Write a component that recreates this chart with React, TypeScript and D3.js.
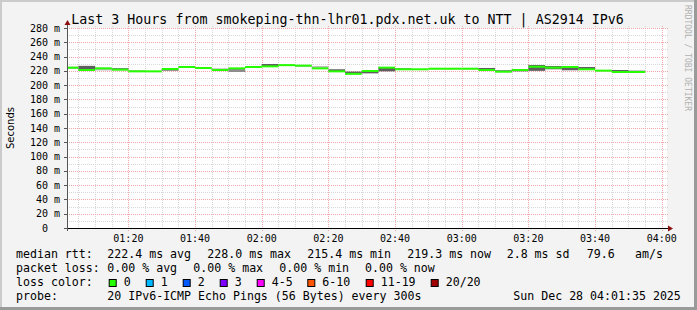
import React from "react";
import * as d3 from "d3";

const W = 697;
const H = 310;

const title = "Last 3 Hours from smokeping-thn-lhr01.pdx.net.uk to NTT | AS2914 IPv6";
const yLabel = "Seconds";
const watermark = "RRDTOOL / TOBI OETIKER";
const yTicks = [0, 20, 40, 60, 80, 100, 120, 140, 160, 180, 200, 220, 240, 260, 280];
const timeLabels = ["01:20", "01:40", "02:00", "02:20", "02:40", "03:00", "03:20", "03:40", "04:00"];

// 5-minute steps starting at 01:00
const median = [224.4, 221.2, 223.5, 221.7, 219.3, 219.3, 222.6, 225.4, 224.0, 221.2, 223.5, 225.4, 226.3, 228.0, 227.3, 223.5, 219.3, 215.8, 219.8, 224.5, 222.2, 222.2, 223.0, 223.0, 223.0, 221.2, 218.8, 221.2, 225.8, 224.5, 225.4, 222.2, 220.3, 218.4, 218.4];
const smokeLo = [222.5, 221.0, 220.5, 221.0, 219.0, 218.8, 220.3, 224.5, 223.5, 221.0, 218.4, 224.0, 226.0, 226.8, 226.8, 223.5, 219.3, 215.8, 216.5, 219.3, 222.0, 221.8, 222.6, 222.6, 222.6, 221.2, 218.8, 219.3, 220.0, 222.2, 220.8, 222.2, 220.0, 218.4, 217.5];
const smokeHi = [226.0, 227.0, 224.5, 223.7, 221.2, 220.0, 222.8, 226.0, 224.5, 223.0, 223.5, 226.8, 229.6, 228.5, 227.6, 226.8, 222.2, 219.0, 220.0, 224.8, 223.5, 222.6, 223.4, 223.4, 223.4, 224.0, 220.8, 222.2, 228.2, 226.8, 225.6, 225.4, 221.0, 221.2, 220.3];
// 0 = sparse, 1 = medium, 2 = dense
const smokeDensity = [0, 2, 0, 2, 0, 0, 2, 0, 0, 2, 1, 0, 2, 2, 2, 0, 2, 2, 2, 2, 2, 0, 0, 0, 0, 2, 2, 2, 2, 2, 2, 2, 0, 2, 2];

const lossLabels = ["0", "1", "2", "3", "4-5", "6-10", "11-19", "20/20"];
const lossColors = ["#26ff00", "#00b8ff", "#0059ff", "#7e00ff", "#ff00ff", "#ff5500", "#ff0000", "#a10000"];

const statLine1 = ["median rtt:", "222.4 ms avg", "228.0 ms max", "215.4 ms min", "219.3 ms now", "2.8 ms sd", "79.6", "am/s"];
const statLine2 = ["packet loss:", "0.00 % avg", "0.00 % max", "0.00 % min", "0.00 % now"];
const lossTitle = "loss color:";
const probeLine = ["probe:", "20 IPv6-ICMP Echo Pings (56 Bytes) every 300s", "Sun Dec 28 04:01:35 2025"];

const MONO = "'DejaVu Sans Mono', monospace";
const SANS = "'DejaVu Sans', sans-serif";

export default function App() {
  const t = (h: number, m: number, s = 0) => new Date(2025, 11, 28, h, m, s);
  const tStart = t(1, 1, 35);
  const tEnd = t(4, 1, 35);
  const left = 67, right = 667, top = 28, bottom = 228;
  const x = d3.scaleTime().domain([tStart, tEnd]).range([left, right]);
  const y = d3.scaleLinear().domain([0, 280]).range([bottom, top]);

  const minorX = d3.timeMinute.every(5)!.range(tStart, tEnd);
  const majorX = d3.timeMinute.every(20)!.range(tStart, tEnd);
  const minorY = d3.range(10, 281, 20);

  const stepStart = (i: number) => {
    const s = d3.timeMinute.offset(t(1, 0), 5 * i);
    return s < tStart ? tStart : s;
  };
  const stepEnd = (i: number) => d3.timeMinute.offset(t(1, 0), 5 * (i + 1));
  const densCol = ["#bdbdbd", "#8c8c8c", "#5e5e5e"];
  const fmt = d3.timeFormat("%H:%M");

  const lx = [16, 107.3, 207.3, 307.3, 407.3, 506.7, 586.7, 635];
  const lx2 = [16, 107.3, 193.3, 279.3, 365];
  const boxX = [108.7, 145.7, 182.7, 219.7, 256.7, 307.3, 365.7, 430.7];

  return (
    <svg width={W} height={H} style={{ position: "absolute", left: 0, top: 0 }} xmlns="http://www.w3.org/2000/svg">
      <rect x={0} y={0} width={W} height={H} fill="#f3f3f3" />
      <rect x={0} y={0} width={W} height={2} fill="#cbcbcb" />
      <rect x={0} y={0} width={2} height={H} fill="#cbcbcb" />
      <rect x={0} y={H - 3} width={W} height={3} fill="#9a9a9a" />
      <rect x={W - 3} y={0} width={3} height={H} fill="#9a9a9a" />
      <rect x={left} y={top} width={right - left} height={bottom - top} fill="#ffffff" />

      {/* minor grid */}
      {minorY.map((v) => (
        <line key={"my" + v} x1={left} x2={right + 1} y1={Math.round(y(v)) + 0.5} y2={Math.round(y(v)) + 0.5} stroke="#d8d8d8" strokeDasharray="1,1" />
      ))}
      {minorX.filter((d) => d.getMinutes() % 20 !== 0).map((d, i) => (
        <line key={"mx" + i} x1={Math.round(x(d)) + 0.5} x2={Math.round(x(d)) + 0.5} y1={26} y2={bottom} stroke="#d8d8d8" strokeDasharray="1,1" />
      ))}
      {/* major grid */}
      {yTicks.filter((v) => v > 0).map((v) => (
        <line key={"My" + v} x1={left} x2={right + 1} y1={Math.round(y(v)) + 0.5} y2={Math.round(y(v)) + 0.5} stroke="#f0a8a8" strokeDasharray="1,1" />
      ))}
      {majorX.map((d, i) => (
        <line key={"Mx" + i} x1={Math.round(x(d)) + 0.5} x2={Math.round(x(d)) + 0.5} y1={26} y2={bottom + 3} stroke="#f0a8a8" strokeDasharray="1,1" />
      ))}

      {/* smoke */}
      {median.map((m, i) => {
        const x0 = x(stepStart(i));
        const x1 = x(stepEnd(i));
        return (
          <rect key={"s" + i} x={x0} width={x1 - x0} y={y(smokeHi[i])} height={Math.max(1, y(smokeLo[i]) - y(smokeHi[i]))} fill={densCol[smokeDensity[i]]} />
        );
      })}
      {/* median */}
      {median.map((m, i) => {
        const x0 = x(stepStart(i));
        const x1 = x(stepEnd(i));
        return <rect key={"m" + i} x={x0} width={x1 - x0} y={y(m) - 1} height={2} fill={lossColors[0]} />;
      })}

      {/* axes */}
      <line x1={left - 3} x2={right + 2} y1={bottom + 0.5} y2={bottom + 0.5} stroke="#000" />
      <path d={`M${right + 6},${bottom + 0.5} L${right + 1},${bottom - 2.5} L${right + 1},${bottom + 3.5} Z`} fill="#8b1010" />
      <line x1={left + 0.5} x2={left + 0.5} y1={bottom + 3} y2={top - 4} stroke="#555" />
      <path d={`M${left + 0.5},${top - 8} L${left - 2.5},${top - 3} L${left + 3.5},${top - 3} Z`} fill="#8b1010" />
      {yTicks.map((v) => (
        <line key={"yt" + v} x1={left - 3} x2={left} y1={Math.round(y(v)) + 0.5} y2={Math.round(y(v)) + 0.5} stroke="#555" />
      ))}

      {/* y labels */}
      {yTicks.map((v) => (
        <text key={"yl" + v} x={v === 0 ? 48 : 60} y={y(v) + 3.5} textAnchor="end" fontFamily={MONO} fontSize={10} fill="#000">
          {v === 0 ? "0" : `${v} m`}
        </text>
      ))}
      {/* x labels */}
      {majorX.map((d, i) => (
        <text key={"xl" + i} x={x(d)} y={241.5} textAnchor="middle" fontFamily={MONO} fontSize={10} fill="#000">
          {timeLabels.includes(fmt(d)) ? fmt(d) : ""}
        </text>
      ))}

      <text x={347.5} y={24} textAnchor="middle" fontFamily={MONO} fontSize={13.3} fill="#000">{title}</text>
      <text transform={`translate(14,128) rotate(-90)`} textAnchor="middle" fontFamily={SANS} fontSize={10} fill="#000">{yLabel}</text>
      <text transform={`translate(685,5) rotate(90)`} textAnchor="start" fontFamily={MONO} fontSize={8} fill="#b0b0b0">{watermark}</text>

      {/* legend */}
      {statLine1.map((s, i) => (
        <text key={"l1" + i} x={lx[i]} y={258} fontFamily={MONO} fontSize={11.6} fill="#000" xmlSpace="preserve">{s}</text>
      ))}
      {statLine2.map((s, i) => (
        <text key={"l2" + i} x={lx2[i]} y={272} fontFamily={MONO} fontSize={11.6} fill="#000" xmlSpace="preserve">{s}</text>
      ))}
      <text x={16} y={286} fontFamily={MONO} fontSize={11.6} fill="#000">{lossTitle}</text>
      {lossLabels.map((s, i) => (
        <g key={"lc" + i}>
          <rect x={boxX[i] + 0.5} y={279.5} width={7} height={7} fill={lossColors[i]} stroke="#000" />
          <text x={boxX[i] + 15} y={286} fontFamily={MONO} fontSize={11.6} fill="#000">{s}</text>
        </g>
      ))}
      <text x={16} y={300} fontFamily={MONO} fontSize={11.6} fill="#000">{probeLine[0]}</text>
      <text x={107.3} y={300} fontFamily={MONO} fontSize={11.6} fill="#000">{probeLine[1]}</text>
      <text x={513.3} y={300} fontFamily={MONO} fontSize={11.6} fill="#000">{probeLine[2]}</text>
    </svg>
  );
}
